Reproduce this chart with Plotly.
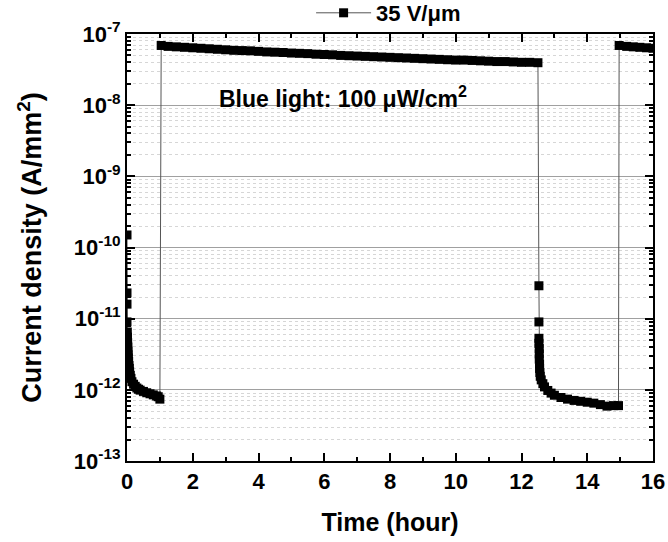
import plotly.graph_objects as go

# Dark period (0 - 1 h)
t_dark1 = [0.0, 0.0, 0.0, 0.0, 0.01, 0.015, 0.02, 0.025, 0.03, 0.035, 0.04, 0.05, 0.06,
           0.07, 0.08, 0.10, 0.12, 0.15, 0.20, 0.25, 0.30, 0.35, 0.40, 0.50, 0.60,
           0.70, 0.80, 0.90, 0.95, 1.00]
j_dark1 = [1.5e-10, 2.3e-11, 1.6e-11, 9e-12, 6.5e-12, 5.5e-12, 4.6e-12, 4.0e-12, 3.5e-12,
           3.1e-12, 2.8e-12, 2.5e-12, 2.2e-12, 2.0e-12, 1.8e-12, 1.6e-12, 1.45e-12,
           1.3e-12, 1.2e-12, 1.12e-12, 1.06e-12, 1.02e-12, 0.99e-12, 0.95e-12, 0.91e-12,
           0.88e-12, 0.85e-12, 0.82e-12, 0.80e-12, 0.74e-12]

# Blue light on (1 - 12.5 h)
t_light1 = [1.04, 1.25, 1.50, 1.75, 2.00, 2.25, 2.50, 2.75, 3.00, 3.25, 3.50, 3.75, 4.00,
            4.25, 4.50, 4.75, 5.00, 5.25, 5.50, 5.75, 6.00, 6.25, 6.50, 6.75, 7.00, 7.25,
            7.50, 7.75, 8.00, 8.25, 8.50, 8.75, 9.00, 9.25, 9.50, 9.75, 10.00, 10.25,
            10.50, 10.75, 11.00, 11.25, 11.50, 11.75, 12.00, 12.25, 12.50]
j_light1 = [6.9e-8, 6.7e-8, 6.6e-8, 6.5e-8, 6.4e-8, 6.3e-8, 6.2e-8, 6.1e-8, 6.0e-8, 5.9e-8,
            5.85e-8, 5.8e-8, 5.7e-8, 5.6e-8, 5.55e-8, 5.5e-8, 5.4e-8, 5.35e-8, 5.3e-8,
            5.2e-8, 5.15e-8, 5.1e-8, 5.0e-8, 4.95e-8, 4.9e-8, 4.85e-8, 4.8e-8, 4.75e-8,
            4.7e-8, 4.65e-8, 4.6e-8, 4.55e-8, 4.5e-8, 4.45e-8, 4.4e-8, 4.35e-8, 4.3e-8,
            4.3e-8, 4.25e-8, 4.2e-8, 4.15e-8, 4.1e-8, 4.1e-8, 4.05e-8, 4.0e-8, 4.0e-8,
            3.95e-8]

# Dark period (12.5 - 15 h)
t_dark2 = [12.53, 12.53, 12.53, 12.53, 12.54, 12.54, 12.54, 12.55, 12.55, 12.56, 12.57,
           12.60, 12.65, 12.70, 12.80, 12.90, 13.00, 13.20, 13.40, 13.60, 13.80, 14.00,
           14.20, 14.40, 14.60, 14.80, 14.95]
j_dark2 = [2.9e-11, 9.0e-12, 5.3e-12, 4.5e-12, 3.8e-12, 3.2e-12, 2.7e-12, 2.3e-12, 2.0e-12,
           1.75e-12, 1.55e-12, 1.38e-12, 1.22e-12, 1.1e-12, 0.98e-12, 0.9e-12, 0.84e-12,
           0.78e-12, 0.74e-12, 0.71e-12, 0.69e-12, 0.67e-12, 0.65e-12, 0.62e-12,
           0.59e-12, 0.60e-12, 0.60e-12]

# Blue light on again (15 - 16 h)
t_light2 = [14.97, 15.20, 15.40, 15.60, 15.80, 16.00]
j_light2 = [6.9e-8, 6.7e-8, 6.6e-8, 6.5e-8, 6.4e-8, 6.3e-8]

time_h = t_dark1 + t_light1 + t_dark2 + t_light2
current = j_dark1 + j_light1 + j_dark2 + j_light2

y_exponents = [-13, -12, -11, -10, -9, -8, -7]
y_tickvals = [10.0 ** e for e in y_exponents]
y_ticktext = ["10<sup>%d</sup>" % e for e in y_exponents]
y_minor = [m * 10.0 ** e for e in y_exponents[:-1] for m in range(2, 10)]

FONT = "Liberation Sans, Arial, sans-serif"

fig = go.Figure()
fig.add_trace(go.Scatter(
    x=time_h, y=current, mode="lines+markers", name="35 V/μm",
    line=dict(color="#555555", width=1),
    marker=dict(symbol="square", size=9, color="black", line=dict(width=0)),
))

fig.update_layout(
    width=668, height=542,
    margin=dict(l=127, r=15, t=34, b=81, autoexpand=False),
    paper_bgcolor="white", plot_bgcolor="white",
    font=dict(family=FONT, color="black"),
    showlegend=True,
    legend=dict(x=0.35, y=1.0, xanchor="left", yanchor="bottom",
                font=dict(size=22, weight="bold"), bgcolor="rgba(0,0,0,0)",
                borderwidth=0, itemwidth=55),
    annotations=[dict(
        x=2.74, y=-7.88, xref="x", yref="y", xanchor="left", yanchor="middle",
        text="Blue light: 100 μW/cm<sup>2</sup>", showarrow=False,
        font=dict(size=23, weight="bold", family=FONT),
    )],
)

fig.update_xaxes(
    range=[0, 16], dtick=2, tick0=0, automargin=False,
    showline=True, linecolor="black", linewidth=2, mirror="allticks",
    ticks="inside", ticklen=8, tickwidth=1.5, tickcolor="black",
    tickfont=dict(size=22, weight="bold", family=FONT),
    minor=dict(dtick=1, ticks="inside", ticklen=4, tickwidth=1.5, tickcolor="black", showgrid=False),
    showgrid=False, zeroline=False,
    title=dict(text="Time (hour)", font=dict(size=25, weight="bold", family=FONT), standoff=20),
)

fig.update_yaxes(
    type="log", range=[-13, -7], automargin=False,
    tickmode="array", tickvals=y_tickvals, ticktext=y_ticktext,
    showline=True, linecolor="black", linewidth=2, mirror="allticks",
    ticks="inside", ticklen=8, tickwidth=1.5, tickcolor="black",
    tickfont=dict(size=22, weight="bold", family=FONT),
    showgrid=True, gridcolor="#a0a0a0", gridwidth=1,
    minor=dict(tickmode="array", tickvals=y_minor, ticks="inside", ticklen=4,
               tickwidth=1.5, tickcolor="black",
               showgrid=True, gridcolor="#d6d6d6", gridwidth=1, griddash="dot"),
    zeroline=False,
    title=dict(text="Current density (A/mm<sup>2</sup>)",
               font=dict(size=27, weight="bold", family=FONT), standoff=24),
)

fig.write_html("out.html")
